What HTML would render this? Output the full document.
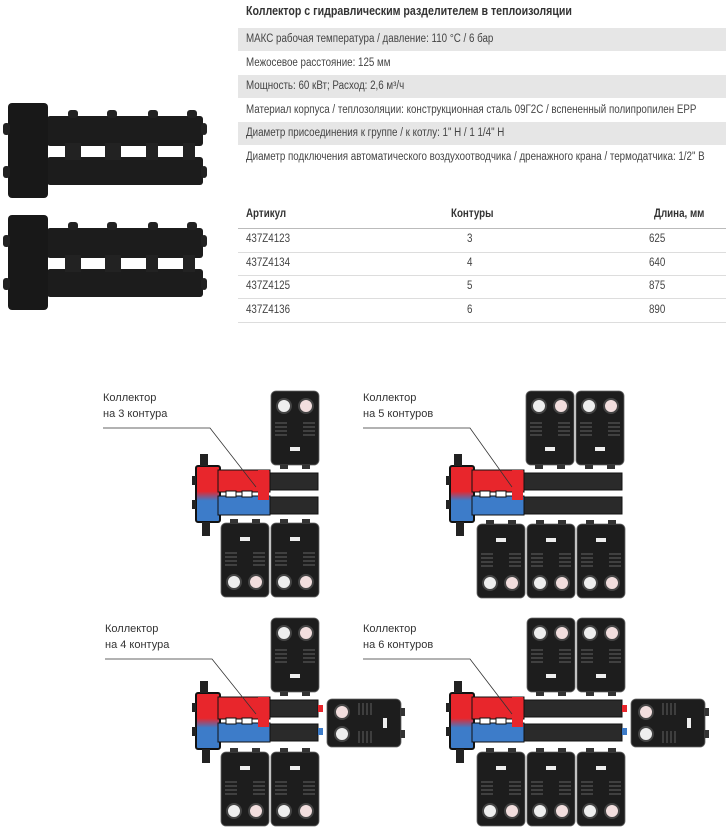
<!DOCTYPE html>
<html><head><meta charset="utf-8"><style>
body{margin:0;width:726px;height:831px;background:#fff;overflow:hidden;font-family:"Liberation Sans",sans-serif;position:relative}
.t{position:absolute;font-size:11.5px;color:#444;white-space:nowrap;transform:scaleX(0.85);transform-origin:0 0}
.g{position:absolute;left:238px;width:488px;height:23px;background:#e6e6e6}
.l{position:absolute;left:238px;width:488px;height:1px;background:#ddd}
</style></head><body>
<div class="t" style="left:246px;top:4px;font-weight:bold;font-size:12.5px;color:#333">Коллектор с гидравлическим разделителем в теплоизоляции</div>
<div class="g" style="top:28px"></div><div class="g" style="top:75px"></div><div class="g" style="top:122px"></div>
<div class="t" style="left:246px;top:33px">МАКС рабочая температура / давление: 110 °С / 6 бар</div>
<div class="t" style="left:246px;top:57px">Межосевое расстояние: 125 мм</div>
<div class="t" style="left:246px;top:80px">Мощность: 60 кВт; Расход:  2,6 м³/ч</div>
<div class="t" style="left:246px;top:104px">Материал корпуса / теплозоляции: конструкционная сталь 09Г2С / вспененный полипропилен EPP</div>
<div class="t" style="left:246px;top:127px">Диаметр присоединения к группе / к котлу: 1" Н / 1 1/4" Н</div>
<div class="t" style="left:246px;top:151px">Диаметр подключения автоматического воздухоотводчика / дренажного крана / термодатчика: 1/2" В</div>

<div class="t" style="left:246px;top:208px;font-weight:bold;color:#333">Артикул</div>
<div class="t" style="left:451px;top:208px;font-weight:bold;color:#333">Контуры</div>
<div class="t" style="left:654px;top:208px;font-weight:bold;color:#333">Длина, мм</div>
<div class="l" style="top:228px;background:#bbb"></div><div class="l" style="top:252px"></div><div class="l" style="top:275px"></div><div class="l" style="top:298px"></div><div class="l" style="top:322px"></div>
<div class="t" style="left:246px;top:233px">437Z4123</div><div class="t" style="left:467px;top:233px">3</div><div class="t" style="left:649px;top:233px">625</div>
<div class="t" style="left:246px;top:257px">437Z4134</div><div class="t" style="left:467px;top:257px">4</div><div class="t" style="left:649px;top:257px">640</div>
<div class="t" style="left:246px;top:280px">437Z4125</div><div class="t" style="left:467px;top:280px">5</div><div class="t" style="left:649px;top:280px">875</div>
<div class="t" style="left:246px;top:304px">437Z4136</div><div class="t" style="left:467px;top:304px">6</div><div class="t" style="left:649px;top:304px">890</div>

<svg width="726" height="831" style="position:absolute;left:0;top:0" xmlns="http://www.w3.org/2000/svg">
<defs>
<g id="photo">
<rect x="47" y="13" width="156" height="30" rx="3" fill="#1c1c1c"/>
<rect x="47" y="54" width="156" height="28" rx="3" fill="#1c1c1c"/>
<rect x="65" y="40" width="16" height="17" fill="#222"/><rect x="105" y="40" width="16" height="17" fill="#222"/>
<rect x="146" y="40" width="12" height="17" fill="#222"/><rect x="183" y="40" width="12" height="17" fill="#222"/>
<rect x="68" y="7" width="10" height="8" rx="3" fill="#222"/><rect x="107" y="7" width="10" height="8" rx="3" fill="#222"/>
<rect x="148" y="7" width="10" height="8" rx="3" fill="#222"/><rect x="187" y="7" width="10" height="8" rx="3" fill="#222"/>
<rect x="8" y="0" width="40" height="95" rx="4" fill="#181818"/>
<rect x="3" y="20" width="7" height="12" rx="3" fill="#222"/><rect x="3" y="63" width="7" height="12" rx="3" fill="#222"/>
<rect x="201" y="20" width="6" height="12" rx="3" fill="#222"/><rect x="201" y="63" width="6" height="12" rx="3" fill="#222"/>
</g>
<g id="pump">
<rect x="0" y="0" width="48" height="74" rx="5" fill="#1d1d1d" stroke="#666" stroke-width="0.8"/>
<circle cx="13" cy="15" r="7" fill="#eee" stroke="#444" stroke-width="2"/><circle cx="35" cy="15" r="7" fill="#f2dede" stroke="#444" stroke-width="2"/>
<g stroke="#555" stroke-width="1.2"><path d="M4 32h12M4 36h12M4 40h12M4 44h12M32 32h12M32 36h12M32 40h12M32 44h12"/></g>
<rect x="19" y="56" width="10" height="4" fill="#eee"/>
<rect x="9" y="74" width="8" height="4" fill="#333"/><rect x="31" y="74" width="8" height="4" fill="#333"/>
</g>
<g id="pumpB"><use href="#pump" transform="translate(0,74) scale(1,-1)"/></g>
<linearGradient id="rb" x1="0" y1="0" x2="0" y2="1"><stop offset="0.45" stop-color="#e8262c"/><stop offset="0.62" stop-color="#3d7cc9"/></linearGradient>
<g id="coll">
<rect x="0" y="0" width="24" height="56" rx="2" fill="url(#rb)" stroke="#111" stroke-width="2"/>
<rect x="-4" y="10" width="4" height="9" fill="#222"/><rect x="-4" y="34" width="4" height="9" fill="#222"/>
<rect x="4" y="-12" width="8" height="12" fill="#222"/><rect x="6" y="56" width="8" height="14" fill="#222"/>
<rect x="22" y="4" width="52" height="22" fill="#e8262c" stroke="#111"/>
<rect x="22" y="30" width="52" height="19" fill="#3d7cc9" stroke="#111"/>
<rect x="62" y="4" width="11" height="30" fill="#e8262c"/>
<rect x="30" y="25" width="10" height="6" fill="#fff" stroke="#111"/><rect x="46" y="25" width="10" height="6" fill="#fff" stroke="#111"/>
</g>
</defs>
<use href="#photo" transform="translate(0,103)"/>
<use href="#photo" transform="translate(0,215)"/>

<g transform="translate(196,466)">
<rect x="72" y="7" width="50" height="17" fill="#2a2a2a" stroke="#111"/><rect x="72" y="31" width="50" height="17" fill="#2a2a2a" stroke="#111"/>
<use href="#coll"/>
<use href="#pump" transform="translate(75,-75)"/>
<use href="#pumpB" transform="translate(25,57)"/><use href="#pumpB" transform="translate(75,57)"/>
</g>
<g transform="translate(450,466)">
<rect x="72" y="7" width="100" height="17" fill="#2a2a2a" stroke="#111"/><rect x="72" y="31" width="100" height="17" fill="#2a2a2a" stroke="#111"/>
<use href="#coll"/>
<use href="#pump" transform="translate(76,-75)"/><use href="#pump" transform="translate(126,-75)"/>
<use href="#pumpB" transform="translate(27,58)"/><use href="#pumpB" transform="translate(77,58)"/><use href="#pumpB" transform="translate(127,58)"/>
</g>
<g transform="translate(196,693)">
<rect x="72" y="7" width="50" height="17" fill="#2a2a2a" stroke="#111"/><rect x="72" y="31" width="50" height="17" fill="#2a2a2a" stroke="#111"/>
<rect x="122" y="12" width="5" height="7" fill="#e8262c"/><rect x="122" y="35" width="5" height="7" fill="#3d7cc9"/>
<use href="#coll"/>
<use href="#pump" transform="translate(75,-75)"/>
<use href="#pumpB" transform="translate(25,59)"/><use href="#pumpB" transform="translate(75,59)"/>
<use href="#pump" transform="translate(131,54) rotate(-90)"/>
</g>
<g transform="translate(450,693)">
<rect x="72" y="7" width="100" height="17" fill="#2a2a2a" stroke="#111"/><rect x="72" y="31" width="100" height="17" fill="#2a2a2a" stroke="#111"/>
<rect x="172" y="12" width="5" height="7" fill="#e8262c"/><rect x="172" y="35" width="5" height="7" fill="#3d7cc9"/>
<use href="#coll"/>
<use href="#pump" transform="translate(77,-75)"/><use href="#pump" transform="translate(127,-75)"/>
<use href="#pumpB" transform="translate(27,59)"/><use href="#pumpB" transform="translate(77,59)"/><use href="#pumpB" transform="translate(127,59)"/>
<use href="#pump" transform="translate(181,54) rotate(-90)"/>
</g>

<g fill="none" stroke="#333" stroke-width="0.8">
<path d="M103 428H210L256 487"/><path d="M363 428H470L512 487"/>
<path d="M105 659H212L256 714"/><path d="M363 659H470L512 714"/>
</g>
<g font-size="11" fill="#333" font-family="Liberation Sans, sans-serif">
<text x="103" y="401">Коллектор</text><text x="103" y="417">на 3 контура</text>
<text x="363" y="401">Коллектор</text><text x="363" y="417">на 5 контуров</text>
<text x="105" y="632">Коллектор</text><text x="105" y="648">на 4 контура</text>
<text x="363" y="632">Коллектор</text><text x="363" y="648">на 6 контуров</text>
</g>
</svg>
</body></html>
